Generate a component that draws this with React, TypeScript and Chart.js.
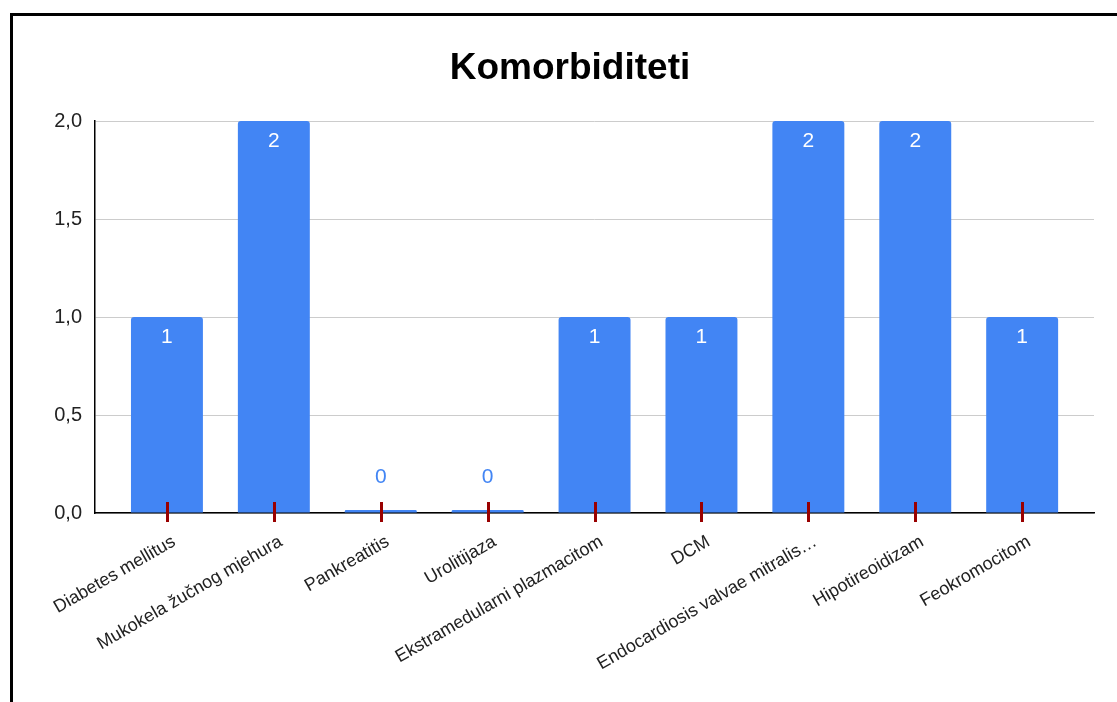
import React, { useEffect, useRef } from "react";
import { Chart, registerables } from "chart.js";

Chart.register(...registerables);

const TITLE = "Komorbiditeti";
const categories: string[] = [
  "Diabetes mellitus",
  "Mukokela žučnog mjehura",
  "Pankreatitis",
  "Urolitijaza",
  "Ekstramedularni plazmacitom",
  "DCM",
  "Endocardiosis valvae mitralis…",
  "Hipotireoidizam",
  "Feokromocitom",
];
const counts: number[] = [1, 2, 0, 0, 1, 1, 2, 2, 1];
const yTicks: number[] = [0, 0.5, 1, 1.5, 2];

const BLUE = "#4285F4";
const FONT = "'Liberation Sans', Arial, sans-serif";

const labelPlugin = {
  id: "valueLabels",
  afterDatasetsDraw(chart: any) {
    const ctx = chart.ctx;
    const meta = chart.getDatasetMeta(0);
    const yScale = chart.scales.y;
    const base = yScale.getPixelForValue(0);
    ctx.save();
    ctx.font = `21px ${FONT}`;
    ctx.textAlign = "center";
    ctx.textBaseline = "middle";
    meta.data.forEach((el: any, i: number) => {
      const v = counts[i];
      if (v > 0) {
        ctx.fillStyle = "#ffffff";
        ctx.fillText(String(v), el.x, yScale.getPixelForValue(v) + 20);
      } else {
        ctx.fillStyle = BLUE;
        ctx.fillText(String(v), el.x, base - 36);
      }
    });
    ctx.restore();
  },
};

const tickPlugin = {
  id: "redTicks",
  afterDraw(chart: any) {
    const ctx = chart.ctx;
    const xScale = chart.scales.x;
    const base = chart.scales.y.getPixelForValue(0);
    ctx.save();
    ctx.strokeStyle = "#990000";
    ctx.lineWidth = 3;
    categories.forEach((_, i) => {
      const x = Math.round(xScale.getPixelForValue(i)) + 0.5;
      ctx.beginPath();
      ctx.moveTo(x, base - 11);
      ctx.lineTo(x, base + 9);
      ctx.stroke();
    });
    ctx.restore();
  },
};

export default function App() {
  const ref = useRef<HTMLCanvasElement | null>(null);

  useEffect(() => {
    if (!ref.current) return;
    const chart = new Chart(ref.current, {
      type: "bar",
      data: {
        datasets: [
          {
            data: counts.map((v, i) => ({ x: i, y: v })),
            backgroundColor: BLUE,
            borderRadius: { topLeft: 3, topRight: 3, bottomLeft: 0, bottomRight: 0 },
            borderSkipped: "start",
            barPercentage: 0.673,
            categoryPercentage: 1,
            minBarLength: 3,
          } as any,
        ],
      },
      options: {
        animation: false,
        responsive: false,
        maintainAspectRatio: false,
        layout: { padding: { left: 46, right: 23, top: 0, bottom: 0 } },
        plugins: {
          legend: { display: false },
          tooltip: { enabled: false },
          title: {
            display: true,
            text: TITLE,
            color: "#000",
            font: { family: FONT, size: 37, weight: "bold" },
            padding: { top: 47, bottom: 29.6 },
          },
        },
        scales: {
          x: {
            type: "linear",
            offset: false,
            min: -0.673,
            max: 8.672,
            afterBuildTicks: (scale: any) => {
              scale.ticks = categories.map((_, i) => ({ value: i }));
            },
            afterFit: (scale: any) => {
              scale.height = 189;
            },
            grid: { display: true, drawOnChartArea: false, drawTicks: false, offset: false },
            border: { display: true, color: "#000", width: 1.5 },
            ticks: {
              autoSkip: false,
              minRotation: 30,
              maxRotation: 30,
              padding: 18,
              labelOffset: 7,
              color: "#222",
              font: { family: FONT, size: 18 },
              callback: (v: any) => categories[Number(v)] ?? "",
            },
          },
          y: {
            min: 0,
            max: 2,
            afterBuildTicks: (scale: any) => {
              scale.ticks = yTicks.map((v) => ({ value: v }));
            },
            afterFit: (scale: any) => {
              scale.width = 49;
            },
            grid: { color: "#cccccc", lineWidth: 1, drawTicks: false },
            border: { display: true, color: "#000", width: 1.5 },
            ticks: {
              padding: 13,
              color: "#222",
              font: { family: FONT, size: 20 },
              callback: (v: any) => Number(v).toFixed(1).replace(".", ","),
            },
          },
        },
      },
      plugins: [labelPlugin, tickPlugin],
    });
    return () => chart.destroy();
  }, []);

  return (
    <div
      style={{
        position: "fixed",
        left: 0,
        top: 0,
        width: 1117,
        height: 702,
        overflow: "hidden",
        background: "#fff",
      }}
    >
      <canvas
        ref={ref}
        width={1117}
        height={702}
        style={{ position: "absolute", left: 0, top: 0, width: 1117, height: 702 }}
      />
      <div
        style={{
          position: "absolute",
          left: 10,
          top: 13,
          width: 1200,
          height: 800,
          border: "3px solid #000",
          boxSizing: "border-box",
          pointerEvents: "none",
        }}
      />
    </div>
  );
}
